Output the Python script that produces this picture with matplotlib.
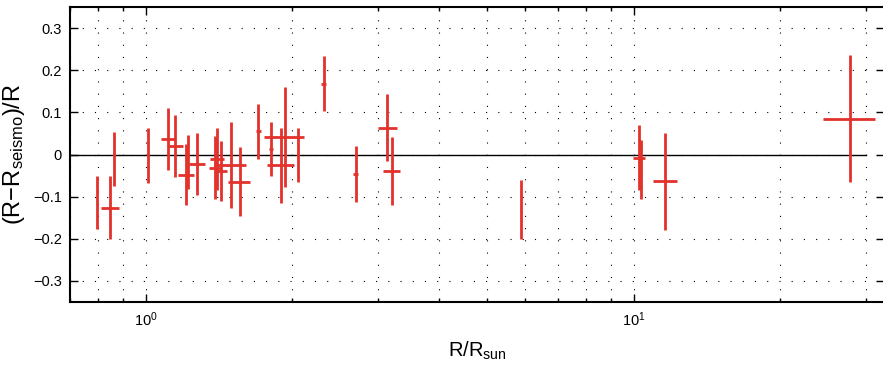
import numpy as np
import matplotlib
matplotlib.use("Agg")
import matplotlib.pyplot as plt
from matplotlib.ticker import FixedLocator, FuncFormatter, LogLocator

plt.rcParams['font.family'] = ['Liberation Sans', 'DejaVu Sans']
plt.rcParams['mathtext.fontset'] = 'custom'
plt.rcParams['mathtext.rm'] = 'Liberation Sans'
plt.rcParams['mathtext.it'] = 'Liberation Sans'

# radius (R/Rsun), horizontal error
r = [0.794, 0.846, 0.863, 1.01, 1.111, 1.15, 1.209, 1.223, 1.274,
     1.404, 1.389, 1.427, 1.493, 1.558, 1.702, 1.804, 1.893, 1.930,
     2.054, 2.317, 2.693, 3.13, 3.197, 5.875, 10.25, 10.36, 11.62, 27.8]
r_err = [0.0, 0.037, 0.0, 0.0, 0.037, 0.041, 0.046, 0.0, 0.048,
         0.047, 0.038, 0.038, 0.115, 0.080, 0.022, 0.017, 0.119, 0.183,
         0.0, 0.03, 0.037, 0.138, 0.128, 0.0, 0.28, 0.0, 0.66, 3.4]
# relative difference (R - Rseismo)/R, vertical error
dr = [-0.113, -0.126, -0.010, -0.003, 0.037, 0.020, -0.048, -0.018, -0.022,
      -0.011, -0.031, -0.039, -0.025, -0.065, 0.055, 0.012, -0.026, 0.041,
      -0.001, 0.168, -0.046, 0.064, -0.040, -0.131, -0.008, -0.035, -0.064, 0.085]
dr_err = [0.063, 0.075, 0.064, 0.065, 0.073, 0.073, 0.073, 0.064, 0.073,
          0.074, 0.075, 0.071, 0.101, 0.082, 0.065, 0.064, 0.090, 0.118,
          0.064, 0.065, 0.066, 0.080, 0.081, 0.070, 0.077, 0.070, 0.114, 0.150]

fig = plt.figure(figsize=(8.83, 3.65), dpi=100)
ax = fig.add_axes([70/883, 1-302/365, 814/883, 295/365])

ax.plot([0.7, 30], [0, 0], color='black', lw=1.0, zorder=2)
ax.errorbar(r, dr, yerr=dr_err, xerr=r_err, fmt='none', ecolor='#e2322b',
            elinewidth=2.0, capsize=0, zorder=3)

ax.set_xscale('log')
ax.set_xlim(0.70, 32.6)
ax.set_ylim(-0.35, 0.35)

ax.yaxis.set_major_locator(FixedLocator([-0.3, -0.2, -0.1, 0, 0.1, 0.2, 0.3]))
ax.yaxis.set_major_formatter(FuncFormatter(
    lambda v, p: '0' if abs(v) < 1e-9 else ('%.1f' % v).replace('-', '\u2212')))
ax.xaxis.set_minor_locator(LogLocator(base=10, subs=np.arange(2, 10) * 1.0, numticks=20))

ax.grid(True, which='major', color='black', linestyle=(0, (1, 10)), lw=0.8)
ax.grid(True, which='minor', axis='x', color='black', linestyle=(0, (1, 10)), lw=0.8)

ax.tick_params(which='both', direction='in', top=True, right=True, labelsize=10.5,
               width=1.0, color='black')
ax.tick_params(which='major', length=6, pad=6)
ax.tick_params(which='minor', length=3)
for s in ax.spines.values():
    s.set_linewidth(1.5)

ax.set_xlabel(r'R/R$_{\mathregular{sun}}$', fontsize=14.5, labelpad=8)
ax.set_ylabel(r'(R$-$R$_{\mathregular{seismo}}$)/R', fontsize=17, labelpad=4)

fig.savefig('out.png', dpi=100)
